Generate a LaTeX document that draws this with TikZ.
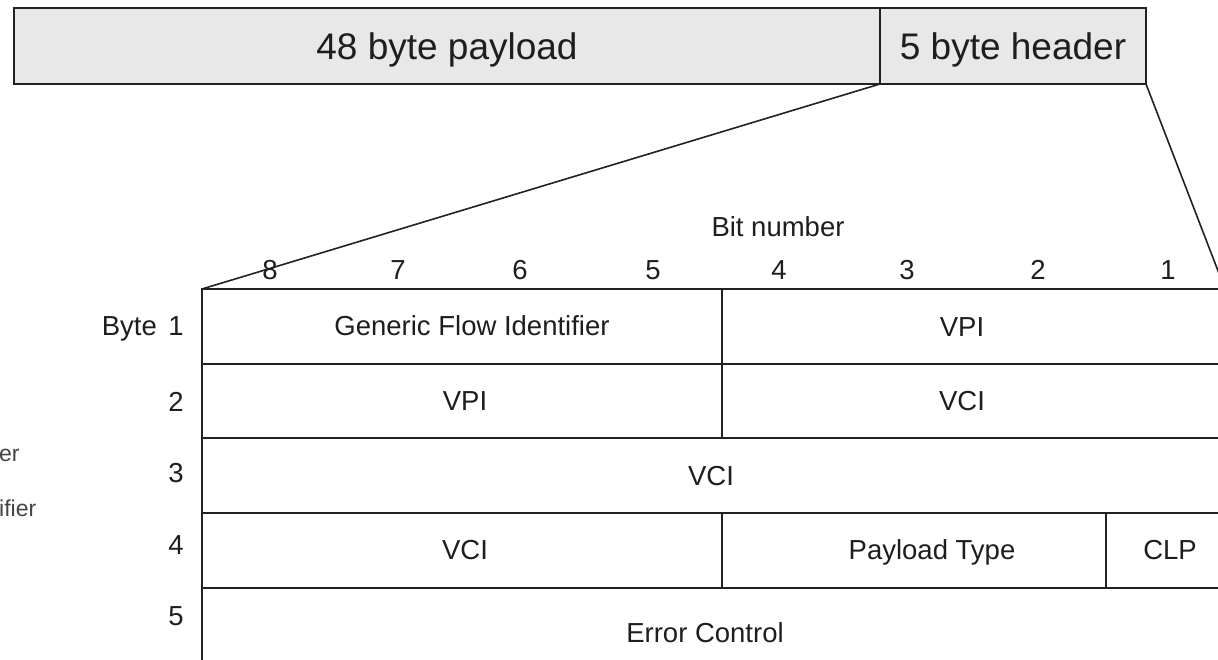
\documentclass[tikz,border=0pt]{standalone}
\usepackage{fontspec}
\setmainfont{Liberation Sans}
\definecolor{linec}{HTML}{222222}
\definecolor{boxfill}{HTML}{E8E8E8}
\definecolor{txt}{HTML}{1E1E1E}
\definecolor{fadetxt}{HTML}{444444}
\begin{document}
\begin{tikzpicture}[x=1pt,y=-1pt,
  topbox/.style={draw=linec, fill=boxfill, line width=1.8pt, minimum height=76pt,
    inner sep=0pt, outer sep=0pt, anchor=north west, text=txt,
    text height=26.5pt, text depth=0pt, font=\fontsize{37}{40}\selectfont},
  cell/.style={draw=linec, line width=1.6pt, inner sep=0pt, outer sep=0pt,
    anchor=north west},
  lbl/.style={inner sep=0pt, text=txt, text height=19.7pt, text depth=0pt,
    font=\fontsize{27.5}{30}\selectfont},
  frag/.style={inner sep=0pt, anchor=west, text=fadetxt, text height=16.5pt, text depth=0pt,
    font=\fontsize{23}{26}\selectfont},
  conn/.style={draw=linec, line width=1.6pt}
]
\useasboundingbox (0,0) rectangle (1218,660);
\clip (0,0) rectangle (1218,660);
\fill[white] (0,0) rectangle (1218,660);

% top cell
\node[topbox, minimum width=866pt] (payload) at (14,8) {48 byte payload};
\node[topbox, minimum width=266pt] (header) at (880,8) {5 byte header};

% header table cells
\node[cell, minimum width=520pt, minimum height=75pt] (gfi) at (202,289) {};
\node[cell, minimum width=503pt, minimum height=75pt] (vpiA) at (722,289) {};
\node[cell, minimum width=520pt, minimum height=74pt] (vpiB) at (202,364) {};
\node[cell, minimum width=503pt, minimum height=74pt] (vciA) at (722,364) {};
\node[cell, minimum width=1023pt, minimum height=75pt] (vciB) at (202,438) {};
\node[cell, minimum width=520pt, minimum height=75pt] (vciC) at (202,513) {};
\node[cell, minimum width=384pt, minimum height=75pt] (pt) at (722,513) {};
\node[cell, minimum width=119pt, minimum height=75pt] (clp) at (1106,513) {};
\node[cell, minimum width=1023pt, minimum height=90pt] (ec) at (202,588) {};

% cell texts
\node[lbl] (gfiT) at (472,326) {Generic Flow Identifier};
\node[lbl] (vpiAT) at (962,327) {VPI};
\node[lbl] (vpiBT) at (465,401) {VPI};
\node[lbl] (vciAT) at (962,401) {VCI};
\node[lbl] (vciBT) at (711,476) {VCI};
\node[lbl] (vciCT) at (465,550) {VCI};
\node[lbl] (ptT) at (932,550) {Payload Type};
\node[lbl] (clpT) at (1170,550) {CLP};
\node[lbl] (ecT) at (705,633) {Error Control};

% expansion lines
\draw[conn] (header.south west) -- (gfi.north west);
\draw[conn] (header.south east) -- (vpiA.north east);

% bit numbers
\node[lbl] (bitnum) at (778,227) {Bit number};
\node[lbl] (b8) at (270,270) {8};
\node[lbl] (b7) at (398,270) {7};
\node[lbl] (b6) at (520,270) {6};
\node[lbl] (b5) at (653,270) {5};
\node[lbl] (b4) at (779,270) {4};
\node[lbl] (b3) at (907,270) {3};
\node[lbl] (b2) at (1038,270) {2};
\node[lbl] (b1) at (1168,270) {1};

% byte numbers
\node[lbl, anchor=east] (byte) at (157,326) {Byte};
\node[lbl] (y1) at (176,326) {1};
\node[lbl] (y2) at (176,402) {2};
\node[lbl] (y3) at (176,473) {3};
\node[lbl] (y4) at (176,545) {4};
\node[lbl] (y5) at (176,616) {5};

% cut-off fragments at the left edge
\node[frag] (fragA) at (-1,453) {er};
\node[frag] (fragB) at (-1,508) {ifier};
\end{tikzpicture}
\end{document}
